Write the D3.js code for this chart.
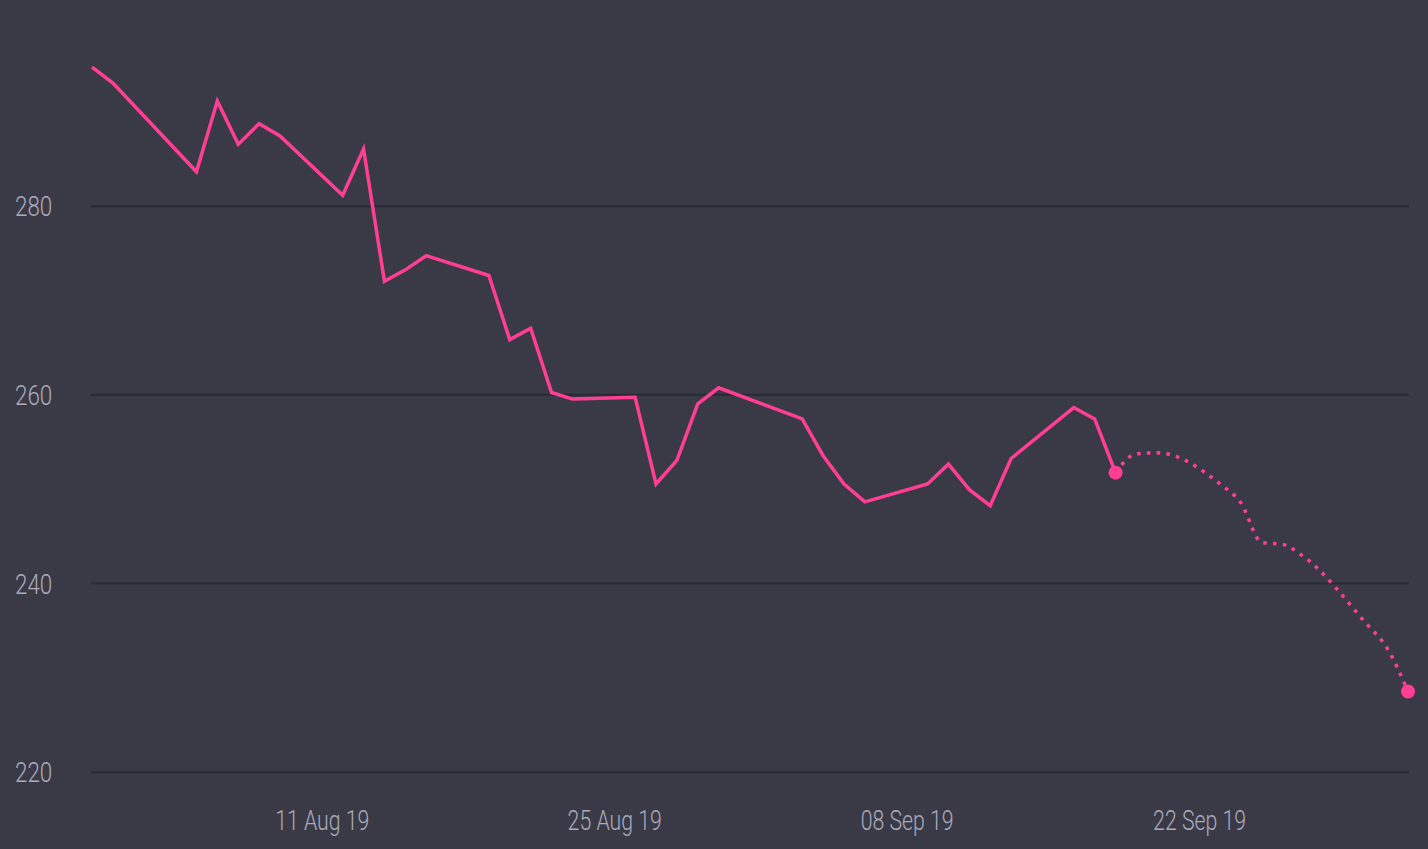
<!DOCTYPE html>
<html>
<head>
<meta charset="utf-8">
<script src="https://cdn.jsdelivr.net/npm/d3@7"></script>
<style>
    html, body { margin: 0; padding: 0; background: #3a3a47; }
    svg { display: block; }
    .axis text { font-family: Roboto, "Noto Sans", sans-serif; font-size: 28px; font-weight: 300; fill: #ababbc; }
</style>
</head>
<body>
<div id="chart"></div>
<script>
// trading days, closing price
const actualDates = [
    "2019-07-31", "2019-08-01", "2019-08-05", "2019-08-06", "2019-08-07", "2019-08-08", "2019-08-09",
    "2019-08-12", "2019-08-13", "2019-08-14", "2019-08-15", "2019-08-16",
    "2019-08-19", "2019-08-20", "2019-08-21", "2019-08-22", "2019-08-23",
    "2019-08-26", "2019-08-27", "2019-08-28", "2019-08-29", "2019-08-30",
    "2019-09-03", "2019-09-04", "2019-09-05", "2019-09-06",
    "2019-09-09", "2019-09-10", "2019-09-11", "2019-09-12", "2019-09-13",
    "2019-09-16", "2019-09-17", "2019-09-18"
];
const actualValues = [
    294.7, 293.0, 283.6, 291.1, 286.5, 288.7, 287.4,
    281.1, 286.0, 272.0, 273.2, 274.7,
    272.6, 265.8, 267.0, 260.2, 259.5,
    259.7, 250.5, 253.0, 259.0, 260.7,
    257.4, 253.5, 250.5, 248.6,
    250.5, 252.6, 249.9, 248.2, 253.2,
    258.6, 257.4, 251.7
];

// forecast, starts from the last close
const forecastDates = [
    "2019-09-18", "2019-09-19", "2019-09-20", "2019-09-23", "2019-09-24", "2019-09-25",
    "2019-09-26", "2019-09-27", "2019-09-30", "2019-10-01", "2019-10-02"
];
const forecastValues = [
    251.7, 253.7, 253.8, 250.5, 248.5, 244.3,
    244.1, 242.8, 235.7, 233.1, 228.5
];

const yTicks = [220, 240, 260, 280];
const xTicks = ["2019-08-11", "2019-08-25", "2019-09-08", "2019-09-22"];

const width = 1428;
const height = 849;
const pink = '#ff3e94';

const parse = d3.timeParse('%Y-%m-%d');
const actual = actualDates.map((d, i) => ({ date: parse(d), value: actualValues[i] }));
const forecast = forecastDates.map((d, i) => ({ date: parse(d), value: forecastValues[i] }));

const svg = d3.select('#chart')
    .append('svg')
    .attr('width', width)
    .attr('height', height);

svg.append('rect')
    .attr('width', width)
    .attr('height', height)
    .attr('fill', '#3a3a47');

const x = d3.scaleTime()
    .domain([actual[0].date, forecast[forecast.length - 1].date])
    .range([92, 1408]);

const y = d3.scaleLinear()
    .domain([220, 280])
    .range([771.7, 205.7]);

const gridLeft = 91;
const gridRight = 1409;

// y grid + labels
const yAxis = svg.append('g')
    .attr('class', 'axis')
    .attr('transform', `translate(${gridLeft},0)`)
    .call(d3.axisRight(y)
        .tickValues(yTicks)
        .tickSize(gridRight - gridLeft)
        .tickFormat(d3.format('d')));

yAxis.select('.domain').remove();
yAxis.selectAll('.tick line')
    .attr('stroke', '#2a2a34')
    .attr('stroke-width', 2);
// condensed look: no narrow font installed, so squeeze Roboto a bit
yAxis.selectAll('.tick text')
    .attr('x', 0)
    .attr('dy', '0.36em')
    .attr('text-anchor', 'start')
    .attr('transform', `translate(${15 - gridLeft},0) scale(0.8,1)`);

// x labels
const xAxis = svg.append('g')
    .attr('class', 'axis')
    .attr('transform', 'translate(0,829.5)')
    .call(d3.axisBottom(x)
        .tickValues(xTicks.map(parse))
        .tickSize(0)
        .tickFormat(d3.timeFormat('%d %b %y')));

xAxis.select('.domain').remove();
xAxis.selectAll('.tick text')
    .attr('y', 0)
    .attr('dy', 0)
    .attr('transform', 'scale(0.76,1)');

// lines
const line = d3.line()
    .x(d => x(d.date))
    .y(d => y(d.value));

svg.append('path')
    .datum(actual)
    .attr('fill', 'none')
    .attr('stroke', pink)
    .attr('stroke-width', 3.5)
    .attr('d', line);

svg.append('path')
    .datum(forecast)
    .attr('fill', 'none')
    .attr('stroke', pink)
    .attr('stroke-width', 3.5)
    .attr('stroke-dasharray', '3.5 6.3')
    .attr('d', line.curve(d3.curveMonotoneX));

// end points
svg.selectAll('.end-dot')
    .data([forecast[0], forecast[forecast.length - 1]])
    .enter()
    .append('circle')
    .attr('class', 'end-dot')
    .attr('cx', d => x(d.date))
    .attr('cy', d => y(d.value))
    .attr('r', 7)
    .attr('fill', pink);
</script>
</body>
</html>
